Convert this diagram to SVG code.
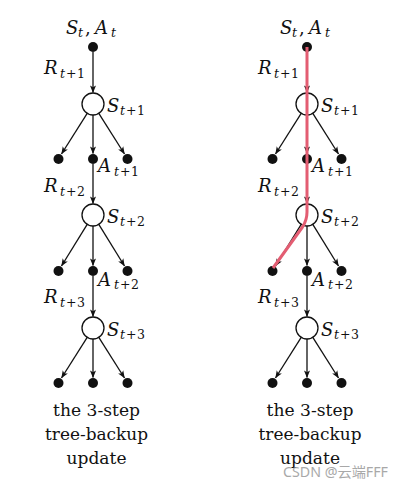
<svg xmlns="http://www.w3.org/2000/svg" width="405" height="488" viewBox="0 0 405 488">
<style>
.dot{fill:#111}
.st{fill:#fff;stroke:#111;stroke-width:1.3}
.e{stroke:#111;stroke-width:1.3;fill:none;marker-end:url(#ah)}
.m{font-family:"DejaVu Serif",serif;font-size:18px;font-style:italic;fill:#111}
.s{font-size:12.5px}
.u{font-style:normal}
.cap{font-family:"DejaVu Serif",serif;font-size:17px;fill:#111;text-anchor:middle}
.red{stroke:#e35d72;stroke-width:3;fill:none;stroke-linejoin:round}
.wm{font-family:"Noto Sans","Noto Sans CJK SC",sans-serif;font-size:14px;fill:#9a9a9a;opacity:0.85}
</style>
<defs>
<marker id="ah" viewBox="0 0 10 10" refX="9.5" refY="5" markerUnits="userSpaceOnUse" markerWidth="7.5" markerHeight="7.5" orient="auto">
<path d="M0,1 L10,5 L0,9 L2.5,5 z" fill="#111"/>
</marker>
</defs>

<g id="connectors">
<line class="e" x1="93" y1="52" x2="93" y2="92.5"/>
<line class="e" x1="87.2" y1="113.3" x2="61.5" y2="154"/>
<line class="e" x1="93" y1="115" x2="93" y2="153.5"/>
<line class="e" x1="98.8" y1="113.3" x2="124.5" y2="154"/>
<line class="e" x1="93" y1="164" x2="93" y2="203.5"/>
<line class="e" x1="87.2" y1="224.3" x2="61.5" y2="266"/>
<line class="e" x1="93" y1="226" x2="93" y2="265.5"/>
<line class="e" x1="98.8" y1="224.3" x2="124.5" y2="266"/>
<line class="e" x1="93" y1="276" x2="93" y2="316.5"/>
<line class="e" x1="87.2" y1="337.3" x2="61.5" y2="378"/>
<line class="e" x1="93" y1="339" x2="93" y2="377.5"/>
<line class="e" x1="98.8" y1="337.3" x2="124.5" y2="378"/>
<line class="e" x1="307" y1="52" x2="307" y2="92.5"/>
<line class="e" x1="301.2" y1="113.3" x2="275.5" y2="154"/>
<line class="e" x1="307" y1="115" x2="307" y2="153.5"/>
<line class="e" x1="312.8" y1="113.3" x2="338.5" y2="154"/>
<line class="e" x1="307" y1="164" x2="307" y2="203.5"/>
<line class="e" x1="301.2" y1="224.3" x2="275.5" y2="266"/>
<line class="e" x1="307" y1="226" x2="307" y2="265.5"/>
<line class="e" x1="312.8" y1="224.3" x2="338.5" y2="266"/>
<line class="e" x1="307" y1="276" x2="307" y2="316.5"/>
<line class="e" x1="301.2" y1="337.3" x2="275.5" y2="378"/>
<line class="e" x1="307" y1="339" x2="307" y2="377.5"/>
<line class="e" x1="312.8" y1="337.3" x2="338.5" y2="378"/>
</g>

<g id="L-root"><circle class="dot" cx="93" cy="47" r="5"/>
<text class="m" y="34"><tspan x="66">S</tspan><tspan class="s" x="78" y="37">t</tspan><tspan class="u" x="85" y="34">,</tspan><tspan x="95" y="34">A</tspan><tspan class="s" x="111" y="37">t</tspan></text></g>
<g id="L-R1"><text class="m" y="74"><tspan x="44">R</tspan><tspan class="s" x="60" y="78">t</tspan><tspan class="s u" x="66" y="78">+</tspan><tspan class="s u" x="77" y="78">1</tspan></text></g>
<g id="L-S1"><circle class="st" cx="93" cy="104" r="11"/>
<text class="m" y="112"><tspan x="107">S</tspan><tspan class="s" x="120" y="115">t</tspan><tspan class="s u" x="126" y="115">+</tspan><tspan class="s u" x="137" y="115">1</tspan></text></g>
<g id="L-a1l"><circle class="dot" cx="58.5" cy="159" r="5"/></g>
<g id="L-A1"><circle class="dot" cx="93" cy="159" r="5"/>
<text class="m" y="172"><tspan x="98">A</tspan><tspan class="s" x="114" y="176">t</tspan><tspan class="s u" x="120" y="176">+</tspan><tspan class="s u" x="131" y="176">1</tspan></text></g>
<g id="L-a1r"><circle class="dot" cx="127.5" cy="159" r="5"/></g>
<g id="L-R2"><text class="m" y="192"><tspan x="44">R</tspan><tspan class="s" x="60" y="196">t</tspan><tspan class="s u" x="66" y="196">+</tspan><tspan class="s u" x="77" y="196">2</tspan></text></g>
<g id="L-S2"><circle class="st" cx="93" cy="215" r="11"/>
<text class="m" y="223"><tspan x="107">S</tspan><tspan class="s" x="120" y="226">t</tspan><tspan class="s u" x="126" y="226">+</tspan><tspan class="s u" x="137" y="226">2</tspan></text></g>
<g id="L-a2l"><circle class="dot" cx="58.5" cy="271" r="5"/></g>
<g id="L-A2"><circle class="dot" cx="93" cy="271" r="5"/>
<text class="m" y="286"><tspan x="98">A</tspan><tspan class="s" x="114" y="289">t</tspan><tspan class="s u" x="120" y="289">+</tspan><tspan class="s u" x="131" y="289">2</tspan></text></g>
<g id="L-a2r"><circle class="dot" cx="127.5" cy="271" r="5"/></g>
<g id="L-R3"><text class="m" y="303"><tspan x="44">R</tspan><tspan class="s" x="60" y="307">t</tspan><tspan class="s u" x="66" y="307">+</tspan><tspan class="s u" x="77" y="307">3</tspan></text></g>
<g id="L-S3"><circle class="st" cx="93" cy="328" r="11"/>
<text class="m" y="336"><tspan x="107">S</tspan><tspan class="s" x="120" y="339">t</tspan><tspan class="s u" x="126" y="339">+</tspan><tspan class="s u" x="137" y="339">3</tspan></text></g>
<g id="L-a3l"><circle class="dot" cx="58.5" cy="383" r="5"/></g>
<g id="L-a3m"><circle class="dot" cx="93" cy="383" r="5"/></g>
<g id="L-a3r"><circle class="dot" cx="127.5" cy="383" r="5"/></g>
<g id="L-caption">
<text class="cap" x="96.5" y="416" textLength="87" lengthAdjust="spacingAndGlyphs">the 3-step</text>
<text class="cap" x="96.5" y="440" textLength="103" lengthAdjust="spacingAndGlyphs">tree-backup</text>
<text class="cap" x="96.5" y="464" textLength="60" lengthAdjust="spacingAndGlyphs">update</text>
</g>

<g id="R-root"><circle class="dot" cx="307" cy="47" r="5"/>
<text class="m" y="34"><tspan x="280">S</tspan><tspan class="s" x="292" y="37">t</tspan><tspan class="u" x="299" y="34">,</tspan><tspan x="309" y="34">A</tspan><tspan class="s" x="325" y="37">t</tspan></text></g>
<g id="R-R1"><text class="m" y="74"><tspan x="258">R</tspan><tspan class="s" x="274" y="78">t</tspan><tspan class="s u" x="280" y="78">+</tspan><tspan class="s u" x="291" y="78">1</tspan></text></g>
<g id="R-S1"><circle class="st" cx="307" cy="104" r="11"/>
<text class="m" y="112"><tspan x="321">S</tspan><tspan class="s" x="334" y="115">t</tspan><tspan class="s u" x="340" y="115">+</tspan><tspan class="s u" x="351" y="115">1</tspan></text></g>
<g id="R-a1l"><circle class="dot" cx="272.5" cy="159" r="5"/></g>
<g id="R-A1"><circle class="dot" cx="307" cy="159" r="5"/>
<text class="m" y="172"><tspan x="312">A</tspan><tspan class="s" x="328" y="176">t</tspan><tspan class="s u" x="334" y="176">+</tspan><tspan class="s u" x="345" y="176">1</tspan></text></g>
<g id="R-a1r"><circle class="dot" cx="341.5" cy="159" r="5"/></g>
<g id="R-R2"><text class="m" y="192"><tspan x="258">R</tspan><tspan class="s" x="274" y="196">t</tspan><tspan class="s u" x="280" y="196">+</tspan><tspan class="s u" x="291" y="196">2</tspan></text></g>
<g id="R-S2"><circle class="st" cx="307" cy="215" r="11"/>
<text class="m" y="223"><tspan x="321">S</tspan><tspan class="s" x="334" y="226">t</tspan><tspan class="s u" x="340" y="226">+</tspan><tspan class="s u" x="351" y="226">2</tspan></text></g>
<g id="R-a2l"><circle class="dot" cx="272.5" cy="271" r="5"/></g>
<g id="R-A2"><circle class="dot" cx="307" cy="271" r="5"/>
<text class="m" y="286"><tspan x="312">A</tspan><tspan class="s" x="328" y="289">t</tspan><tspan class="s u" x="334" y="289">+</tspan><tspan class="s u" x="345" y="289">2</tspan></text></g>
<g id="R-a2r"><circle class="dot" cx="341.5" cy="271" r="5"/></g>
<g id="R-R3"><text class="m" y="303"><tspan x="258">R</tspan><tspan class="s" x="274" y="307">t</tspan><tspan class="s u" x="280" y="307">+</tspan><tspan class="s u" x="291" y="307">3</tspan></text></g>
<g id="R-S3"><circle class="st" cx="307" cy="328" r="11"/>
<text class="m" y="336"><tspan x="321">S</tspan><tspan class="s" x="334" y="339">t</tspan><tspan class="s u" x="340" y="339">+</tspan><tspan class="s u" x="351" y="339">3</tspan></text></g>
<g id="R-a3l"><circle class="dot" cx="272.5" cy="383" r="5"/></g>
<g id="R-a3m"><circle class="dot" cx="307" cy="383" r="5"/></g>
<g id="R-a3r"><circle class="dot" cx="341.5" cy="383" r="5"/></g>
<g id="R-caption">
<text class="cap" x="310" y="416" textLength="87" lengthAdjust="spacingAndGlyphs">the 3-step</text>
<text class="cap" x="310" y="440" textLength="103" lengthAdjust="spacingAndGlyphs">tree-backup</text>
<text class="cap" x="310" y="464" textLength="60" lengthAdjust="spacingAndGlyphs">update</text>
</g>

<g id="backup-path">
<path class="red" d="M307,47 L307,212 Q307,220 302.5,227 L273,268"/>
</g>

<text class="wm" x="283" y="477" textLength="105" lengthAdjust="spacingAndGlyphs">CSDN @云端FFF</text>
</svg>
